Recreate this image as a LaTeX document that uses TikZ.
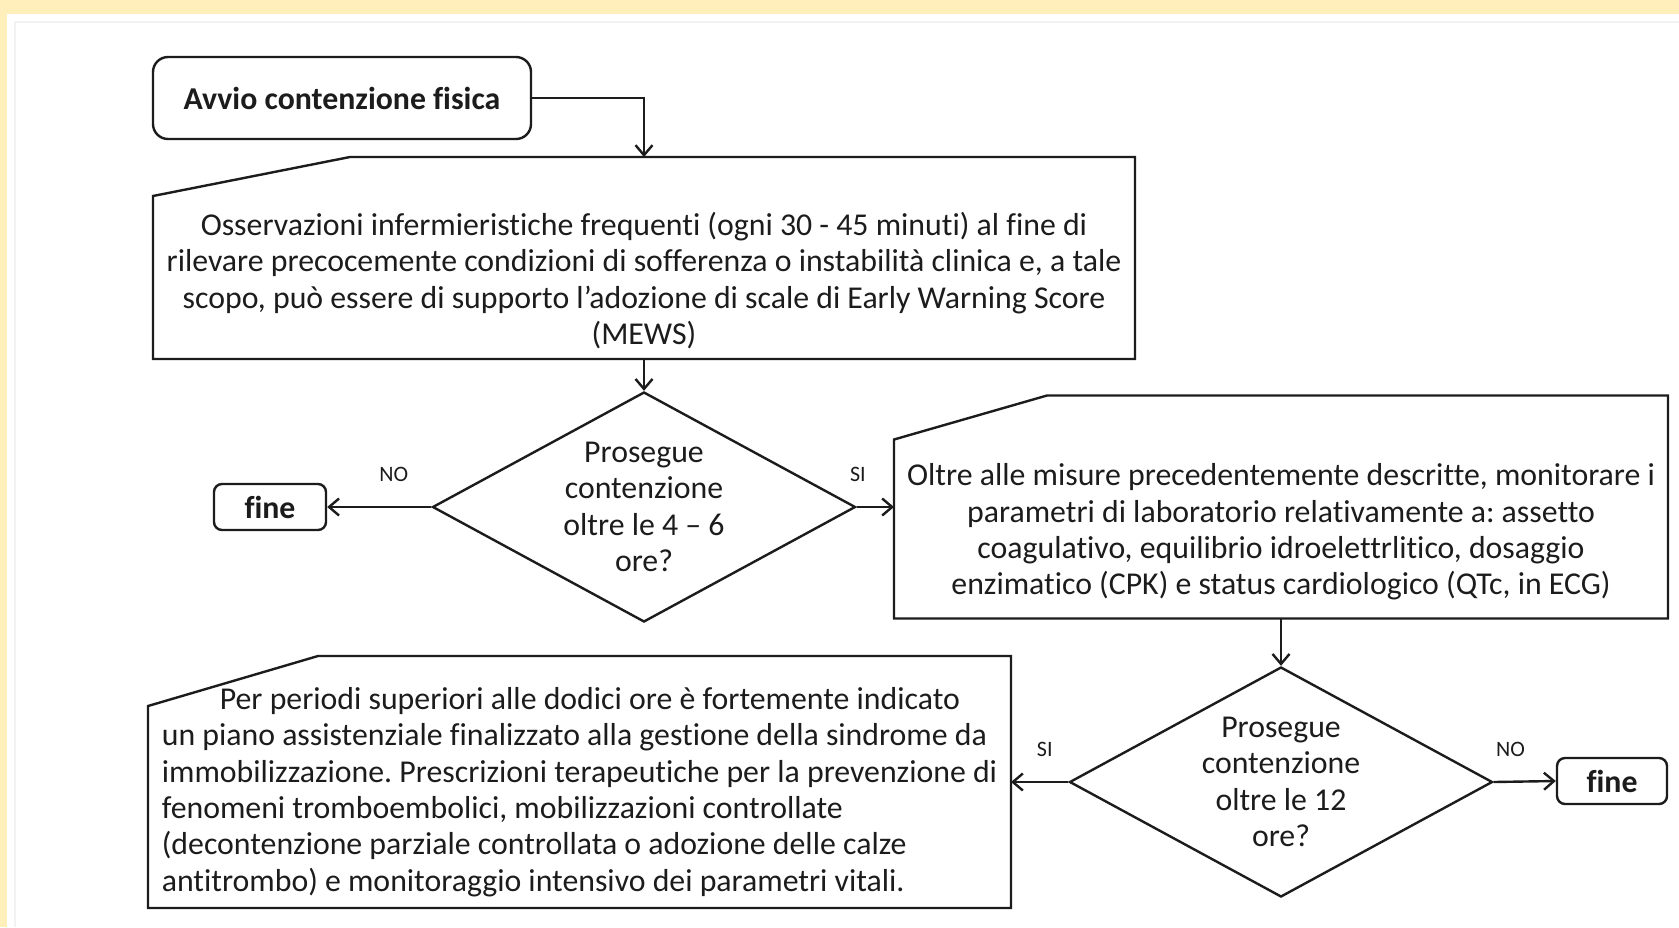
\documentclass[tikz,border=0pt]{standalone}
\usepackage{fontspec}
\setmainfont{Carlito}[Ligatures={TeX,NoCommon}]
\usetikzlibrary{arrows.meta,calc,positioning,shapes.geometric}
\definecolor{paleyellow}{HTML}{FFEFBA}
\definecolor{ink}{HTML}{1C1C1C}
\frenchspacing

\begin{document}
\begin{tikzpicture}[
  x=0.5pt, y=-0.5pt,
  > = {Straight Barb[length=5pt,width=8.5pt]},
  every node/.style = {font=\fontsize{15.9}{18.2}\selectfont, text=ink},
  line/.style = {draw=ink, line width=1.2pt},
  startbox/.style = {line, rounded corners=7.5pt, minimum width=189pt, minimum height=41pt,
                     font=\fontsize{15.9}{18.2}\selectfont\bfseries},
  endbox/.style = {line, rounded corners=4pt, minimum height=23pt,
                   font=\fontsize{15.9}{18.2}\selectfont\bfseries},
  card/.style = {inner sep=0pt, outer sep=0pt},
  decision/.style = {diamond, line, inner sep=0pt, align=center, aspect=1.84,
                     minimum width=211.5pt, minimum height=115pt},
  tag/.style = {font=\fontsize{11}{12}\selectfont, inner sep=0pt}
  ]
	\useasboundingbox (0,0) rectangle (1679,927);
	\fill[paleyellow] (0,0) rectangle (1679,927);
	\fill[white] (7,14) rectangle (1679,927);
	\draw[black!5, line width=1pt] (15,927) |- (1679,22);

	% boxes
	\node[startbox] (start) at (342,98) {Avvio contenzione fisica};
	\node[card, align=center, minimum width=491pt, minimum height=101pt] (obs) at (644,258)
		{\rule{0pt}{34pt}Osservazioni infermieristiche frequenti (ogni 30 - 45 minuti) al fine di\\
		 rilevare precocemente condizioni di sofferenza o instabilità clinica e, a tale\\
		 scopo, può essere di supporto l’adozione di scale di Early Warning Score\\
		 (MEWS)};
	\node[decision] (dia1) at (644,507) {Prosegue\\contenzione\\oltre le 4 – 6\\ore?};
	\node[endbox, minimum width=56pt] (fine1) at (270,507) {fine};
	\node[card, align=center, minimum width=387pt, minimum height=111.5pt] (lab) at (1281,507)
		{\rule{0pt}{36pt}Oltre alle misure precedentemente descritte, monitorare i\\
		 parametri di laboratorio relativamente a: assetto\\
		 coagulativo, equilibrio idroelettrlitico, dosaggio\\
		 enzimatico (CPK) e status cardiologico (QTc, in ECG)};
	\node[decision] (dia2) at (1281,782) {Prosegue\\contenzione\\oltre le 12\\ore?};
	\node[endbox, minimum width=55pt] (fine2) at (1612,781) {fine};
	\node[card, align=left, minimum width=431.5pt, minimum height=126pt] (piano) at (579.5,782)
		{\rule{0pt}{21pt}\hspace*{29pt}Per periodi superiori alle dodici ore è fortemente indicato\\
		 un piano assistenziale finalizzato alla gestione della sindrome da\\
		 immobilizzazione. Prescrizioni terapeutiche per la prevenzione di\\
		 fenomeni tromboembolici, mobilizzazioni controllate\\
		 (decontenzione parziale controllata o adozione delle calze\\
		 antitrombo) e monitoraggio intensivo dei parametri vitali.};

	% card outlines
	\draw[line] ($(obs.north west)+(197,0)$) -- (obs.north east) -- (obs.south east)
		-- (obs.south west) -- ($(obs.north west)+(0,39)$) -- cycle;
	\draw[line] ($(lab.north west)+(153,0)$) -- (lab.north east) -- (lab.south east)
		-- (lab.south west) -- ($(lab.north west)+(0,44)$) -- cycle;
	\draw[line] ($(piano.north west)+(170,0)$) -- (piano.north east) -- (piano.south east)
		-- (piano.south west) -- ($(piano.north west)+(0,50)$) -- cycle;

	% connectors
	\draw[line,->] (start.east) -| (obs.north);
	\draw[line,->] (obs.south) -- (dia1.north);
	\draw[line,->] (dia1.west) -- node[tag, pos=.36, above=12pt] {NO} (fine1.east);
	\draw[line,->] (dia1.east) -- node[tag, pos=.03, above=12pt] {SI} (lab.west);
	\draw[line,->] (lab.south) -- (dia2.north);
	\draw[line,->] (dia2.east) -- node[tag, pos=.27, above=12pt] {NO} (fine2.west);
	\draw[line,->] (dia2.west) -- node[tag, pos=.41, above=12pt] {SI} (piano.east);
\end{tikzpicture}
\end{document}
